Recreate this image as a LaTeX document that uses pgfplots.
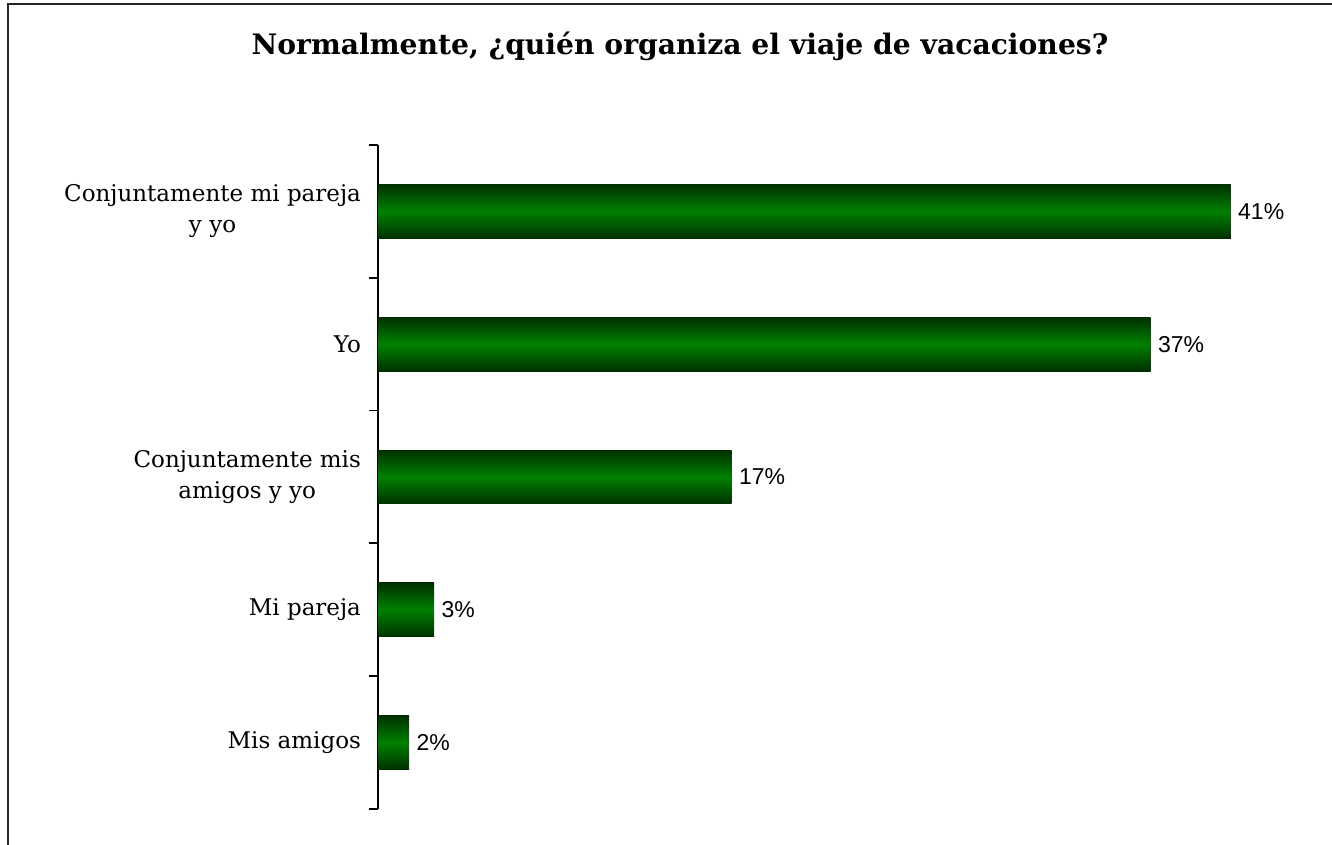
\documentclass[border=0pt]{standalone}
\usepackage{pgfplots}
\pgfplotsset{compat=1.18}
\usepackage{fontspec}
\setmainfont{DejaVu Serif}
\newfontfamily\arialf{Liberation Sans}
\definecolor{bardark}{RGB}{0,48,0}
\definecolor{barmid}{RGB}{0,128,0}
\begin{document}
\begin{tikzpicture}
\useasboundingbox (0,0) rectangle (666pt,-422.5pt);
\draw[line width=1pt, black!85] (4pt,-422.5pt) -- (4pt,-2pt) -- (666pt,-2pt);
\node[anchor=base, font=\fontsize{14.1pt}{17pt}\selectfont\bfseries] at (340pt,-27.5pt)
  {Normalmente, ¿quién organiza el viaje de vacaciones?};
\begin{axis}[
  at={(189pt,-72.5pt)}, anchor=north west,
  scale only axis, width=468pt, height=332pt,
  xmin=0, xmax=45,
  ymin=-0.5, ymax=4.5,
  axis x line=none,
  axis y line*=left,
  axis line style={line width=0.9pt, black},
  ytick={0,1,2,3,4},
  yticklabels={{Mis amigos},{Mi pareja},{Conjuntamente mis\\amigos y yo},{Yo},{Conjuntamente mi pareja\\y yo}},
  minor ytick={-0.5,0.5,1.5,2.5,3.5,4.5},
  major tick length=0pt,
  minor tick length=4.5pt,
  tick align=outside,
  minor tick style={line width=0.9pt, black},
  yticklabel style={align=center, font=\fontsize{11.5pt}{15.5pt}\selectfont, xshift=-5pt},
  clip=false,
  no markers,
  every axis plot/.append style={xbar, bar width=0.406, bar shift=0pt, draw=none, mark=none,
    top color=bardark, bottom color=bardark, middle color=barmid,
    nodes near coords, point meta=explicit symbolic,
    nodes near coords style={font=\arialf\fontsize{11.5pt}{13pt}\selectfont, anchor=west, inner sep=3.5pt, black}},
]
\addplot coordinates {(1.5,0) [2\%]};
\addplot coordinates {(2.7,1) [3\%]};
\addplot coordinates {(17.0,2) [17\%]};
\addplot coordinates {(37.15,3) [37\%]};
\addplot coordinates {(41.0,4) [41\%]};
\end{axis}
\end{tikzpicture}
\end{document}
